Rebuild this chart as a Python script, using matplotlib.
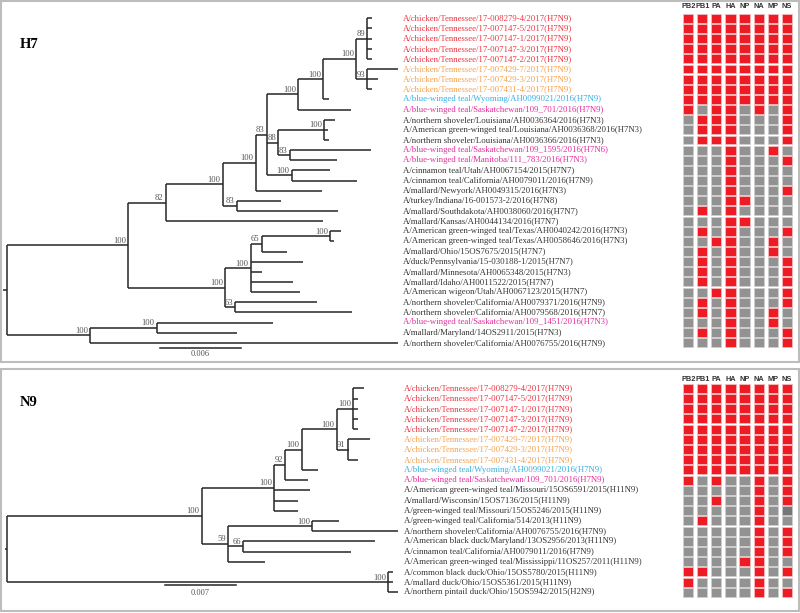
import matplotlib
matplotlib.use("Agg")
import matplotlib.pyplot as plt
from matplotlib.patches import Rectangle

segments = ["PB2", "PB1", "PA", "HA", "NP", "NA", "MP", "NS"]

# ---------------- H7 panel data ----------------
h7_names = [
    "A/chicken/Tennessee/17-008279-4/2017(H7N9)",
    "A/chicken/Tennessee/17-007147-5/2017(H7N9)",
    "A/chicken/Tennessee/17-007147-1/2017(H7N9)",
    "A/chicken/Tennessee/17-007147-3/2017(H7N9)",
    "A/chicken/Tennessee/17-007147-2/2017(H7N9)",
    "A/chicken/Tennessee/17-007429-7/2017(H7N9)",
    "A/chicken/Tennessee/17-007429-3/2017(H7N9)",
    "A/chicken/Tennessee/17-007431-4/2017(H7N9)",
    "A/blue-winged teal/Wyoming/AH0099021/2016(H7N9)",
    "A/blue-winged teal/Saskatchewan/109_701/2016(H7N9)",
    "A/northern shoveler/Louisiana/AH0036364/2016(H7N3)",
    "A/American green-winged teal/Louisiana/AH0036368/2016(H7N3)",
    "A/northern shoveler/Louisiana/AH0036366/2016(H7N3)",
    "A/blue-winged teal/Saskatchewan/109_1595/2016(H7N6)",
    "A/blue-winged teal/Manitoba/111_783/2016(H7N3)",
    "A/cinnamon teal/Utah/AH0067154/2015(H7N7)",
    "A/cinnamon teal/California/AH0079011/2016(H7N9)",
    "A/mallard/Newyork/AH0049315/2016(H7N3)",
    "A/turkey/Indiana/16-001573-2/2016(H7N8)",
    "A/mallard/Southdakota/AH0038060/2016(H7N7)",
    "A/mallard/Kansas/AH0044134/2016(H7N7)",
    "A/American green-winged teal/Texas/AH0040242/2016(H7N3)",
    "A/American green-winged teal/Texas/AH0058646/2016(H7N3)",
    "A/mallard/Ohio/15OS7675/2015(H7N7)",
    "A/duck/Pennsylvania/15-030188-1/2015(H7N7)",
    "A/mallard/Minnesota/AH0065348/2015(H7N3)",
    "A/mallard/Idaho/AH0011522/2015(H7N7)",
    "A/American wigeon/Utah/AH0067123/2015(H7N7)",
    "A/northern shoveler/California/AH0079371/2016(H7N9)",
    "A/northern shoveler/California/AH0079568/2016(H7N7)",
    "A/blue-winged teal/Saskatchewan/109_1451/2016(H7N3)",
    "A/mallard/Maryland/14OS2911/2015(H7N3)",
    "A/northern shoveler/California/AH0076755/2016(H7N9)",
]
h7_groups = "rrrrr" + "ooo" + "b" + "m" + "kkk" + "mm" + "k" * 15 + "m" + "kk"

# leaves are numbered in the order of h7_names, internal labels are bootstrap values
h7_tree = """
((((((((((1:0.00033,2:0.00033,3:0.00033,4:0.00033,5:0.00033)89:0.00084,
(6:0.0023,7:0.00082,8:0.00033)93:0.00084)100:0.00243,9:0.00042)100:0.00186,
10:0.0039)100:0.00235,((11:0.0008,12:0.00028,13:0.00035)100:0.00342,
(14:0.00602,15:0.00347)83:0.00087)88:0.00086,(16:0.00285,17:0.00488)100:0.00186)83:0.00082,
18:0.00495)100:0.00245,(19:0.00327,20:0.00755)83:0.00104)100:0.00424,21:0.01167)82:0.00278,
((((22:0.00082,23:0.00032)100:0.00508,24:0.0019)65:0.00082,25:0.00387,26:0.00086,
27:0.00312,28:0.00367)100:0.00191,(29:0.00605,30:0.00865)63:0.00077)100:0.00719)100:0.00904,
((31:0.00865,32:0.00597)100:0.00496,33:0.0229)100:0.00619);
"""

h7_grid = [
    "11111111", "11111111", "11111111", "11111111", "11111111",
    "11111111", "11111111", "11111111", "11111111",
    "10110101",
    "01110001", "01110001", "01110001",
    "00010010", "00010001",
    "00010000", "00010000", "00010001",
    "00011000", "01010000", "00011000",
    "01010001", "00110010", "01010010",
    "01010001", "01010001", "01010001",
    "00110001", "01010001", "01010010",
    "00010010", "01010001", "00010001",
]

# ---------------- N9 panel data ----------------
n9_names = [
    "A/chicken/Tennessee/17-008279-4/2017(H7N9)",
    "A/chicken/Tennessee/17-007147-5/2017(H7N9)",
    "A/chicken/Tennessee/17-007147-1/2017(H7N9)",
    "A/chicken/Tennessee/17-007147-3/2017(H7N9)",
    "A/chicken/Tennessee/17-007147-2/2017(H7N9)",
    "A/chicken/Tennessee/17-007429-7/2017(H7N9)",
    "A/chicken/Tennessee/17-007429-3/2017(H7N9)",
    "A/chicken/Tennessee/17-007431-4/2017(H7N9)",
    "A/blue-winged teal/Wyoming/AH0099021/2016(H7N9)",
    "A/blue-winged teal/Saskatchewan/109_701/2016(H7N9)",
    "A/American green-winged teal/Missouri/15OS6591/2015(H11N9)",
    "A/mallard/Wisconsin/15OS7136/2015(H11N9)",
    "A/green-winged teal/Missouri/15OS5246/2015(H11N9)",
    "A/green-winged teal/California/514/2013(H11N9)",
    "A/northern shoveler/California/AH0076755/2016(H7N9)",
    "A/American black duck/Maryland/13OS2956/2013(H11N9)",
    "A/cinnamon teal/California/AH0079011/2016(H7N9)",
    "A/American green-winged teal/Mississippi/11OS257/2011(H11N9)",
    "A/common black duck/Ohio/15OS5780/2015(H11N9)",
    "A/mallard duck/Ohio/15OS5361/2015(H11N9)",
    "A/northern pintail duck/Ohio/15OS5942/2015(H2N9)",
]
n9_groups = "rrrrr" + "ooo" + "b" + "m" + "k" * 11

n9_tree = """
(((((((1:0.00105,2:0.00049,3:0.00049,4:0.00049,5:0.00049)100:0.00164,
(6:0.0022,7:0.0001,8:0.00099)91:0.00108)100:0.00345,9:0.00158)100:0.00165,
10:0.00224)92:0.00105,11:0.00352,12:0.00231,13:0.00231)100:0.00716,
((14:0.00266,15:0.00848)100:0.00828,(16:0.01298,17:0.01059)66:0.00148,
18:0.00362)59:0.00262)100:0.01917,(19:0.00049,20:0.00043,21:0.00099)100:0.03756);
"""

n9_grid = [
    "11111111", "11111111", "11111111", "11111111", "11111111",
    "11111111", "11111111", "11111111", "11111111",
    "10100101",
    "00000101", "00100101", "00000102", "01000100",
    "00000101", "00000101", "00000101", "00001100",
    "11000101", "10000100", "00000101",
]

text_colors = {"r": "#ee3340", "o": "#f6a24e", "b": "#39aee3",
               "m": "#e42c9d", "k": "#333333"}
cell_colors = {"1": "#ed1c24", "0": "#929292", "2": "#767676"}
cell_edges = {"1": "#f7b9bc", "0": "#cfcfcf", "2": "#c4c4c4"}


def parse_newick(s):
    s = "".join(s.split()).rstrip(";")
    pos = 0

    def node():
        nonlocal pos
        children = []
        if s[pos] == "(":
            pos += 1
            while True:
                children.append(node())
                if s[pos] == ",":
                    pos += 1
                else:
                    break
            pos += 1
        start = pos
        while pos < len(s) and s[pos] not in ",):":
            pos += 1
        label = s[start:pos]
        length = 0.0
        if pos < len(s) and s[pos] == ":":
            pos += 1
            start = pos
            while pos < len(s) and s[pos] not in ",)":
                pos += 1
            length = float(s[start:pos])
        return {"children": children, "label": label, "length": length}

    return node()


def layout(n, x0):
    n["x"] = x0 + n["length"]
    if n["children"]:
        for c in n["children"]:
            layout(c, n["x"])
        n["y"] = (n["children"][0]["y"] + n["children"][-1]["y"]) / 2
    else:
        n["y"] = int(n["label"]) - 1


def draw_tree(ax, n, parent_x):
    kw = dict(color="#262626", lw=1.1, solid_capstyle="butt")
    ax.plot([parent_x, n["x"]], [n["y"], n["y"]], **kw)
    if n["children"]:
        ax.plot([n["x"], n["x"]], [n["children"][0]["y"], n["children"][-1]["y"]], **kw)
        if n["label"]:
            ax.annotate(n["label"], (n["x"], n["y"]), xytext=(-1.5, 0.3),
                        textcoords="offset points", ha="right", va="bottom",
                        fontsize=6.2, family="Liberation Serif", color="#555555")
        for c in n["children"]:
            draw_tree(ax, c, n["x"])


fig = plt.figure(figsize=(8, 6.13), dpi=100)
W, H = 800, 613

panels = [
    dict(title="H7", names=h7_names, groups=h7_groups, tree=h7_tree, grid=h7_grid,
         top=0, bottom=365, row0=18.3, dy=10.14, root=6.7, px_per_unit=13450,
         label_x=403, head_row=-1.2, title_y=44, box=(1, 1, 798, 361),
         scale=(0.0114, 0.006, 32.48, 33.1)),
    dict(title="N9", names=n9_names, groups=n9_groups, tree=n9_tree, grid=n9_grid,
         top=365, bottom=613, row0=388.3, dy=10.2, root=7.3, px_per_unit=10143,
         label_x=404, head_row=-0.9, title_y=402.7, box=(1, 369, 798, 242),
         scale=(0.01555, 0.007, 19.28, 20.1)),
]

for p in panels:
    hfrac = (p["bottom"] - p["top"]) / H
    bot = 1 - p["bottom"] / H
    ax = fig.add_axes([0, bot, 1, hfrac])
    k = p["px_per_unit"]
    ax.set_xlim(-p["root"] / k, (W - p["root"]) / k)
    ax.set_ylim((p["bottom"] - p["row0"]) / p["dy"], -(p["row0"] - p["top"]) / p["dy"])
    ax.axis("off")

    root = parse_newick(p["tree"])
    layout(root, 0.0)
    draw_tree(ax, root, -0.00025)

    for i, (name, g) in enumerate(zip(p["names"], p["groups"])):
        ax.text(p["label_x"] / W, i, name, transform=ax.get_yaxis_transform(),
                ha="left", va="center", fontsize=6.3, family="Liberation Serif",
                color=text_colors[g])

    sx, sl, srow, slab = p["scale"]
    ax.plot([sx, sx + sl], [srow, srow], color="#262626", lw=1.1)
    ax.text(sx + sl / 2, slab, f"{sl:.3f}", ha="center", va="center",
            fontsize=6.0, family="Liberation Serif", color="#555555")

    # segment grid
    axg = fig.add_axes([681.3 / W, bot, 8 * 14.05 / W, hfrac], sharey=ax)
    axg.set_xlim(-0.5, 7.5)
    axg.axis("off")
    for r, row in enumerate(p["grid"]):
        for j, v in enumerate(row):
            axg.bar(j, 0.88, bottom=r - 0.44, width=0.72, color=cell_colors[v],
                    edgecolor=cell_edges[v], linewidth=0.6)
    for j, seg in enumerate(segments):
        axg.text(j, p["head_row"], seg, ha="center", va="center", fontsize=5.3,
                 fontweight="bold", family="Liberation Sans", color="#333333")

    fig.text(19.3 / W, 1 - p["title_y"] / H, p["title"], ha="left", va="center",
             fontsize=10.5, fontweight="bold", family="Liberation Serif")

    bx, by, bw, bh = p["box"]
    fig.patches.append(Rectangle((bx / W, 1 - (by + bh) / H), bw / W, bh / H,
                                 transform=fig.transFigure, fill=False,
                                 edgecolor="#bdbdbd", linewidth=1.5))

fig.savefig("out.png", dpi=100)
